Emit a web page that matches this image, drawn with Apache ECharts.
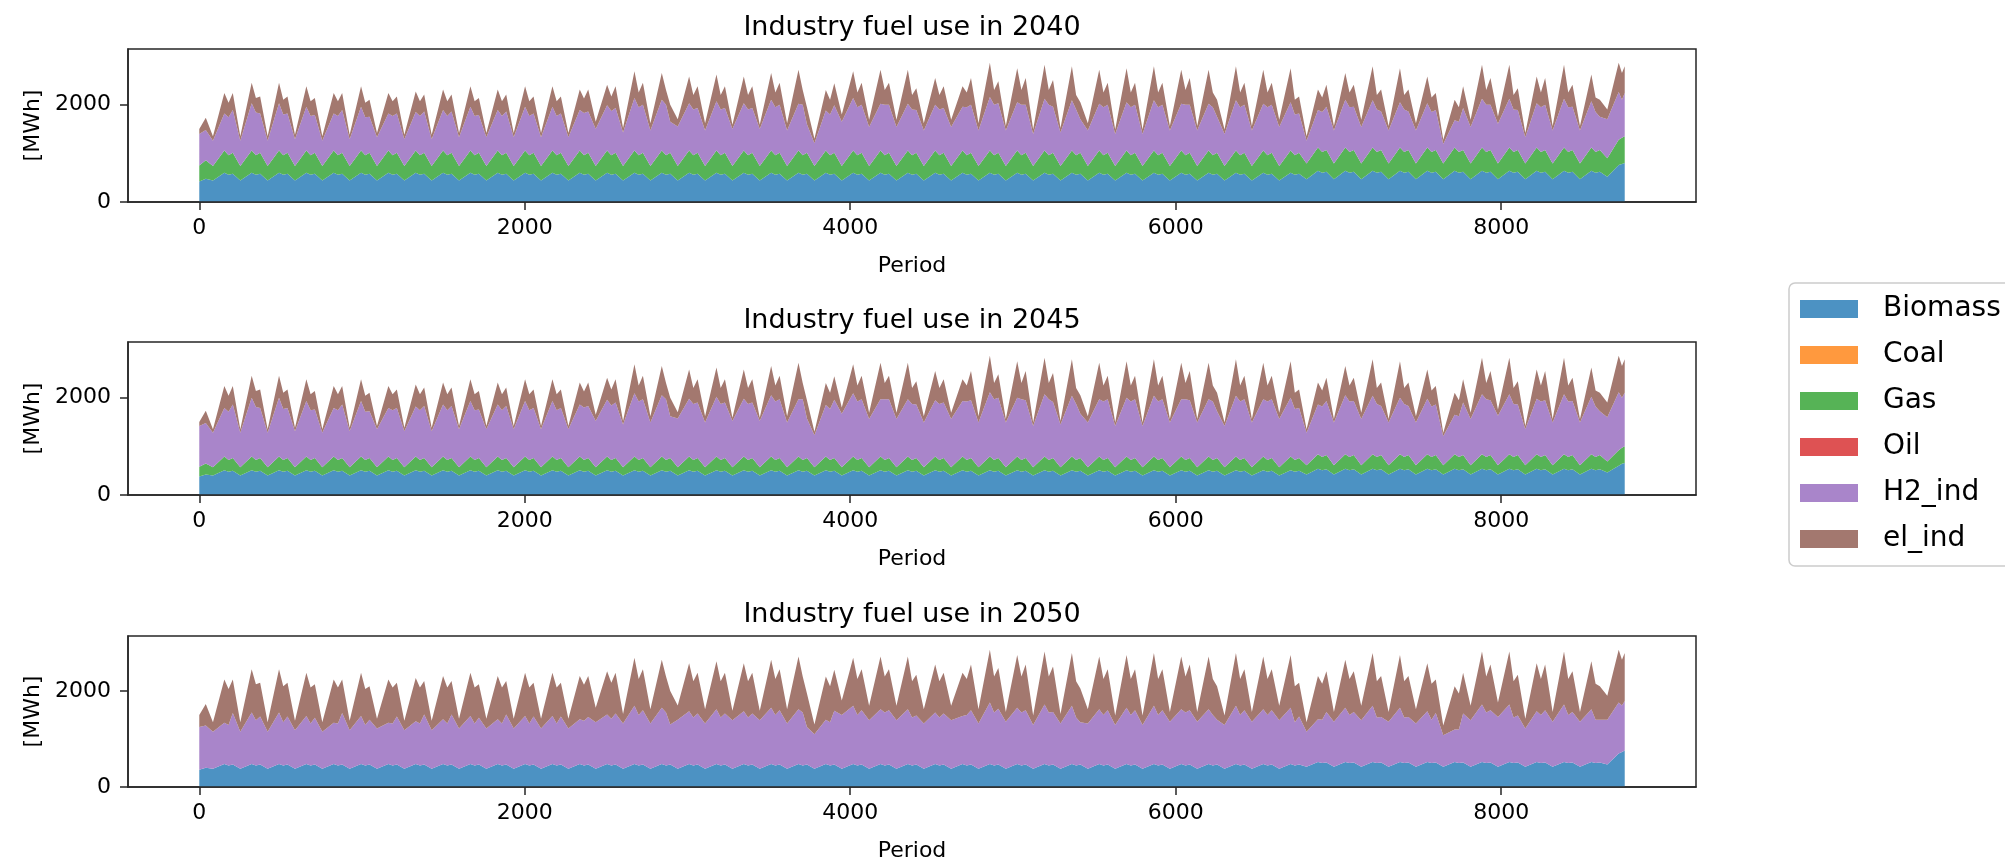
<!DOCTYPE html>
<html>
<head>
<meta charset="utf-8">
<title>Industry fuel use</title>
<script src="https://cdn.jsdelivr.net/npm/echarts@6/dist/echarts.min.js"></script>
<style>
  html, body { margin: 0; padding: 0; background: #ffffff; }
  #chart { width: 2005px; height: 863px; }
</style>
</head>
<body>
<div id="chart"></div>
<script>
// Sample hours of the year: start, then per week the weekend low, two weekday peaks and the dip between them
const hours = [
  0, 40,
  84,154,180,206, 252,322,348,374, 420,490,516,542, 588,658,684,710,
  756,826,852,878, 924,994,1020,1046, 1092,1162,1188,1214, 1260,1330,1356,1382,
  1428,1498,1524,1550, 1596,1666,1692,1718, 1764,1834,1860,1886, 1932,2002,2028,2054,
  2100,2170,2196,2222, 2268,2338,2364,2390, 2436,2506,2532,2558, 2604,2674,2700,2726,
  2772,2842,2868,2894, 2940,3010,3036,3062, 3108,3178,3204,3230, 3276,3346,3372,3398,
  3444,3514,3540,3566, 3612,3682,3708,3734, 3780,3850,3876,3902, 3948,4018,4044,4070,
  4116,4186,4212,4238, 4284,4354,4380,4406, 4452,4522,4548,4574, 4620,4690,4716,4742,
  4788,4858,4884,4910, 4956,5026,5052,5078, 5124,5194,5220,5246, 5292,5362,5388,5414,
  5460,5530,5556,5582, 5628,5698,5724,5750, 5796,5866,5892,5918, 5964,6034,6060,6086,
  6132,6202,6228,6254, 6300,6370,6396,6422, 6468,6538,6564,6590, 6636,6706,6732,6758,
  6804,6874,6900,6926, 6972,7042,7068,7094, 7140,7210,7236,7262, 7308,7378,7404,7430,
  7476,7546,7572,7598, 7644,7714,7740,7766, 7812,7882,7908,7934, 7980,8050,8076,8102,
  8148,8218,8244,8270, 8316,8386,8412,8438, 8484,8554,8580,8606, 8652,8722,8742,8759
];

// Fuels that are not used in any year (MWh)
const zeroLoad = [
  0,0,0,0,0,0,0,0,0,0, 0,0,0,0,0,0,0,0,0,0, 0,0,0,0,0,0,0,0,0,0,
  0,0,0,0,0,0,0,0,0,0, 0,0,0,0,0,0,0,0,0,0, 0,0,0,0,0,0,0,0,0,0,
  0,0,0,0,0,0,0,0,0,0, 0,0,0,0,0,0,0,0,0,0, 0,0,0,0,0,0,0,0,0,0,
  0,0,0,0,0,0,0,0,0,0, 0,0,0,0,0,0,0,0,0,0, 0,0,0,0,0,0,0,0,0,0,
  0,0,0,0,0,0,0,0,0,0, 0,0,0,0,0,0,0,0,0,0, 0,0,0,0,0,0,0,0,0,0,
  0,0,0,0,0,0,0,0,0,0, 0,0,0,0,0,0,0,0,0,0, 0,0,0,0,0,0,0,0,0,0,
  0,0,0,0,0,0,0,0,0,0, 0,0,0,0,0,0,0,0,0,0, 0,0,0,0,0,0,0,0,0,0
];

// ---- 2040 (MWh) ----
const biomass2040 = [
  420,480,
  440,600,560,580, 440,600,560,580, 440,600,560,580, 440,600,560,580,
  440,600,560,580, 440,600,560,580, 440,600,560,580, 440,600,560,580,
  440,600,560,580, 440,600,560,580, 440,600,560,580, 440,600,560,580,
  440,600,560,580, 440,600,560,580, 440,600,560,580, 440,600,560,580,
  440,600,560,580, 440,600,560,580, 440,600,560,580, 440,600,560,580,
  440,600,560,580, 440,600,560,580, 440,600,560,580, 440,600,560,580,
  440,600,560,580, 440,600,560,580, 440,600,560,580, 440,600,560,580,
  440,600,560,580, 440,600,560,580, 440,600,560,580, 440,600,560,580,
  440,600,560,580, 440,600,560,580, 440,600,560,580, 440,600,560,580,
  440,600,560,580, 440,600,560,580, 440,600,560,580, 440,600,560,580,
  470,640,600,620, 470,640,600,620, 470,640,600,620, 470,640,600,620,
  470,640,600,620, 470,640,600,620, 470,640,600,620, 470,640,600,620,
  470,640,600,620, 470,640,600,620, 470,640,600,620, 520,760,780,800
];
const gas2040 = [
  330,380,
  300,460,400,430, 300,460,400,430, 300,460,400,430, 300,460,400,430,
  300,460,400,430, 300,460,400,430, 300,460,400,430, 300,460,400,430,
  300,460,400,430, 300,460,400,430, 300,460,400,430, 300,460,400,430,
  300,460,400,430, 300,460,400,430, 300,460,400,430, 300,460,400,430,
  300,460,400,430, 300,460,400,430, 300,460,400,430, 300,460,400,430,
  300,460,400,430, 300,460,400,430, 300,460,400,430, 300,460,400,430,
  300,460,400,430, 300,460,400,430, 300,460,400,430, 300,460,400,430,
  300,460,400,430, 300,460,400,430, 300,460,400,430, 300,460,400,430,
  300,460,400,430, 300,460,400,430, 300,460,400,430, 300,460,400,430,
  300,460,400,430, 300,460,400,430, 300,460,400,430, 300,460,400,430,
  320,480,430,450, 320,480,430,450, 320,480,430,450, 320,480,430,450,
  320,480,430,450, 320,480,430,450, 320,480,430,450, 320,480,430,450,
  320,480,430,450, 320,480,430,450, 320,480,430,450, 380,520,540,550
];
const h2ind2040 = [
  650,620,
  520,760,780,880, 520,970,880,810, 520,970,840,810, 550,900,810,780,
  520,760,810,880, 550,900,780,740, 590,760,810,810, 550,790,810,850,
  550,830,810,850, 590,900,810,780, 590,830,810,850, 590,900,810,810,
  590,900,810,810, 590,830,870,850, 760,930,910,920, 690,1080,990,990,
  730,1040,1040,640, 810,970,940,920, 730,1010,940,920, 760,970,940,920,
  760,1040,990,990, 730,960,1040,590, 470,820,840,980, 910,1080,990,990,
  800,960,1040,990, 800,960,940,880, 730,940,940,920, 800,900,990,990,
  730,1100,1040,1020, 730,990,1040,990, 660,1060,1040,950, 690,1030,940,690,
  730,960,990,990, 660,990,990,990, 660,1030,990,990, 730,960,1040,990,
  730,960,990,740, 660,1030,990,990, 730,960,990,990, 800,990,840,810,
  470,770,820,890, 680,980,920,890, 750,970,870,790, 680,930,870,790,
  680,910,820,820, 400,560,620,860, 750,1000,970,930, 820,1000,870,820,
  540,910,920,930, 680,1000,920,890, 680,950,820,680, 800,980,780,890
];
const elind2040 = [
  100,250,
  90,420,300,350, 90,420,300,350, 90,420,300,350, 90,420,300,350,
  90,420,300,350, 90,420,300,350, 90,420,300,350, 90,420,300,350,
  90,420,300,350, 90,420,300,350, 90,420,300,350, 90,420,300,350,
  90,420,300,350, 90,420,300,450, 150,420,300,450, 90,550,300,450,
  150,550,300,350, 150,550,300,450, 150,550,300,450, 90,550,300,450,
  90,550,300,450, 150,700,300,350, 90,420,300,450, 150,550,300,450,
  150,700,300,450, 150,700,300,450, 150,550,300,450, 150,420,300,550,
  150,700,300,450, 90,700,300,550, 90,700,300,550, 90,700,300,350,
  150,700,300,450, 90,700,300,450, 90,700,300,450, 90,700,300,550,
  90,700,300,350, 90,700,300,450, 90,700,300,450, 150,700,300,350,
  90,420,300,450, 90,550,300,450, 150,700,300,450, 90,700,300,450,
  150,550,300,350, 90,420,300,450, 150,700,300,550, 150,700,300,450,
  90,550,300,550, 90,700,300,450, 90,550,300,350, 200,600,550,550
];

// ---- 2045 (MWh) ----
const biomass2045 = [
  380,420,
  400,510,480,500, 400,510,480,500, 400,510,480,500, 400,510,480,500,
  400,510,480,500, 400,510,480,500, 400,510,480,500, 400,510,480,500,
  400,510,480,500, 400,510,480,500, 400,510,480,500, 400,510,480,500,
  400,510,480,500, 400,510,480,500, 400,510,480,500, 400,510,480,500,
  400,510,480,500, 400,510,480,500, 400,510,480,500, 400,510,480,500,
  400,510,480,500, 400,510,480,500, 400,510,480,500, 400,510,480,500,
  400,510,480,500, 400,510,480,500, 400,510,480,500, 400,510,480,500,
  400,510,480,500, 400,510,480,500, 400,510,480,500, 400,510,480,500,
  400,510,480,500, 400,510,480,500, 400,510,480,500, 400,510,480,500,
  400,510,480,500, 400,510,480,500, 400,510,480,500, 400,510,480,500,
  420,540,510,530, 420,540,510,530, 420,540,510,530, 420,540,510,530,
  420,540,510,530, 420,540,510,530, 420,540,510,530, 420,540,510,530,
  420,540,510,530, 420,540,510,530, 420,540,510,530, 460,600,640,660
];
const gas2045 = [
  200,230,
  170,280,240,260, 170,280,240,260, 170,280,240,260, 170,280,240,260,
  170,280,240,260, 170,280,240,260, 170,280,240,260, 170,280,240,260,
  170,280,240,260, 170,280,240,260, 170,280,240,260, 170,280,240,260,
  170,280,240,260, 170,280,240,260, 170,280,240,260, 170,280,240,260,
  170,280,240,260, 170,280,240,260, 170,280,240,260, 170,280,240,260,
  170,280,240,260, 170,280,240,260, 170,280,240,260, 170,280,240,260,
  170,280,240,260, 170,280,240,260, 170,280,240,260, 170,280,240,260,
  170,280,240,260, 170,280,240,260, 170,280,240,260, 170,280,240,260,
  170,280,240,260, 170,280,240,260, 170,280,240,260, 170,280,240,260,
  170,280,240,260, 170,280,240,260, 170,280,240,260, 170,280,240,260,
  190,300,270,290, 190,300,270,290, 190,300,270,290, 190,300,270,290,
  190,300,270,290, 190,300,270,290, 190,300,270,290, 190,300,270,290,
  190,300,270,290, 190,300,270,290, 190,300,270,290, 230,320,330,340
];
const h2ind2045 = [
  840,830,
  710,1000,990,1100, 710,1210,1090,1030, 710,1210,1050,1030, 740,1140,1020,1000,
  710,1000,1020,1100, 740,1140,990,960, 780,1000,1020,1030, 740,1030,1020,1070,
  740,1070,1020,1070, 780,1140,1020,1000, 780,1070,1020,1070, 780,1140,1020,1030,
  780,1140,1020,1030, 780,1070,1080,1070, 950,1170,1120,1140, 880,1300,1200,1210,
  920,1260,1250,860, 1000,1190,1150,1140, 920,1230,1150,1140, 950,1190,1150,1140,
  950,1260,1200,1210, 920,1180,1250,810, 660,1060,1050,1200, 1100,1300,1200,1210,
  990,1180,1250,1210, 990,1180,1150,1100, 920,1160,1150,1140, 990,1140,1200,1190,
  920,1320,1250,1240, 920,1210,1250,1190, 850,1280,1250,1150, 880,1250,1150,910,
  920,1180,1200,1210, 850,1210,1200,1210, 850,1250,1200,1210, 920,1180,1250,1190,
  920,1180,1200,960, 850,1250,1200,1210, 920,1180,1200,1210, 990,1210,1050,1030,
  670,1020,1040,1110, 880,1210,1140,1110, 950,1200,1090,1010, 880,1160,1090,1010,
  880,1140,1040,1040, 600,810,840,1080, 950,1230,1190,1130, 1020,1230,1090,1040,
  740,1140,1140,1130, 880,1230,1140,1110, 880,1180,1040,900, 910,1190,1030,1100
];
const elind2045 = [
  80,250,
  70,450,330,380, 70,450,330,380, 70,450,330,380, 70,450,330,380,
  70,450,330,380, 70,450,330,380, 70,450,330,380, 70,450,330,380,
  70,450,330,380, 70,450,330,380, 70,450,330,380, 70,450,330,380,
  70,450,330,380, 70,450,330,480, 130,450,330,480, 70,600,330,480,
  130,600,330,380, 130,600,330,480, 130,600,330,480, 70,600,330,480,
  70,600,330,480, 130,750,330,380, 70,450,330,480, 130,600,330,480,
  130,750,330,480, 130,750,330,480, 130,600,330,480, 130,450,330,600,
  130,750,330,480, 70,750,330,600, 70,750,330,600, 70,750,330,380,
  130,750,330,480, 70,750,330,480, 70,750,330,480, 70,750,330,600,
  70,750,330,380, 70,750,330,480, 70,750,330,480, 130,750,330,380,
  70,450,330,480, 70,600,330,480, 130,750,330,480, 70,750,330,480,
  130,600,330,380, 70,450,330,480, 130,750,330,600, 130,750,330,480,
  70,600,330,600, 70,750,330,480, 70,600,330,380, 300,750,650,690
];

// ---- 2050 (MWh) ----
const biomass2050 = [
  360,400,
  380,480,450,470, 380,480,450,470, 380,480,450,470, 380,480,450,470,
  380,480,450,470, 380,480,450,470, 380,480,450,470, 380,480,450,470,
  380,480,450,470, 380,480,450,470, 380,480,450,470, 380,480,450,470,
  380,480,450,470, 380,480,450,470, 380,480,450,470, 380,480,450,470,
  380,480,450,470, 380,480,450,470, 380,480,450,470, 380,480,450,470,
  380,480,450,470, 380,480,450,470, 380,480,450,470, 380,480,450,470,
  380,480,450,470, 380,480,450,470, 380,480,450,470, 380,480,450,470,
  380,480,450,470, 380,480,450,470, 380,480,450,470, 380,480,450,470,
  380,480,450,470, 380,480,450,470, 380,480,450,470, 380,480,450,470,
  380,480,450,470, 380,480,450,470, 380,480,450,470, 380,480,450,470,
  420,520,500,510, 420,520,500,510, 420,520,500,510, 420,520,500,510,
  420,520,500,510, 420,520,500,510, 420,520,500,510, 420,520,500,510,
  420,520,500,510, 420,520,500,510, 420,520,500,510, 470,700,730,760
];
const h2ind2050 = [
  890,880,
  770,860,840,1070, 770,1070,940,1000, 770,1070,900,1000, 800,1000,870,970,
  770,860,870,1070, 800,1000,840,930, 840,860,870,1000, 800,890,870,1040,
  800,930,870,1040, 840,1000,870,970, 840,930,870,1040, 840,1000,870,1000,
  840,1000,870,1000, 840,930,930,990, 970,1030,970,1060, 940,1210,1050,1130,
  940,1170,1100,830, 1020,1100,1000,1060, 940,1140,1000,1060, 1010,1100,1000,1060,
  1010,1170,1050,1130, 940,1140,1100,780, 720,920,900,1120, 1120,1210,1050,1130,
  1010,1140,1100,1130, 1010,1140,1000,1020, 940,1070,1000,1060, 1010,1000,1050,1130,
  940,1280,1100,1160, 980,1170,1100,1130, 910,1240,1100,1090, 940,1210,1000,880,
  940,1140,1050,1130, 910,1170,1050,1130, 910,1210,1050,1130, 980,1140,1100,1130,
  980,1140,1050,930, 910,1210,1050,1130, 980,1140,1050,1130, 1010,1170,900,1000,
  730,890,900,1050, 940,1130,1000,1050, 970,1170,950,950, 940,1130,950,950,
  900,1060,900,1030, 660,680,700,1020, 970,1200,1050,1090, 1040,1200,950,980,
  800,1060,1000,1090, 940,1200,1000,1050, 940,1100,900,890, 930,1060,970,1030
];
const elind2050 = [
  250,450,
  200,900,750,700, 200,900,750,700, 200,900,750,700, 200,900,750,700,
  200,900,750,700, 200,900,750,700, 200,900,750,700, 200,900,750,700,
  200,900,750,700, 200,900,750,700, 200,900,750,700, 200,900,750,700,
  200,900,750,700, 200,900,750,850, 300,900,750,850, 200,1000,750,850,
  300,1000,750,700, 300,1000,750,850, 300,1000,750,850, 200,1000,750,850,
  200,1000,750,850, 300,1100,750,700, 200,900,750,850, 300,1000,750,850,
  300,1100,750,850, 300,1100,750,850, 300,1000,750,850, 300,900,750,950,
  300,1100,750,850, 200,1100,750,950, 200,1100,750,950, 200,1100,750,700,
  300,1100,750,850, 200,1100,750,850, 200,1100,750,850, 200,1100,750,950,
  200,1100,750,700, 200,1100,750,850, 200,1100,750,850, 300,1100,750,700,
  200,900,750,850, 200,1000,750,850, 300,1100,750,850, 200,1100,750,850,
  300,1000,750,700, 200,900,750,850, 300,1100,750,950, 300,1100,750,850,
  200,1000,750,950, 200,1100,750,850, 200,1000,750,700, 500,1100,950,1000
];

const fuels = ['Biomass', 'Coal', 'Gas', 'Oil', 'H2_ind', 'el_ind'];
const fuelColors = ['#4c92c3', '#ff993e', '#56b356', '#de5253', '#a985ca', '#a3786f'];
const years = ['2040', '2045', '2050'];
const xTicks = [0, 2000, 4000, 6000, 8000];
const yTicks = [0, 2000];

// Stack order per year follows the fuel list: Biomass, Coal, Gas, Oil, H2_ind, el_ind
const useByYear = [
  [biomass2040, zeroLoad, gas2040, zeroLoad, h2ind2040, elind2040],
  [biomass2045, zeroLoad, gas2045, zeroLoad, h2ind2045, elind2045],
  [biomass2050, zeroLoad, zeroLoad, zeroLoad, h2ind2050, elind2050]
];

// Panel geometry
const FONT = 'DejaVu Sans';
const plotLeft = 128;
const plotWidth = 1568;
const plotHeight = 153;
const plotTops = [49, 342, 636];
const frameColor = '#262626';
const plainNumber = v => String(v);

const chart = echarts.init(document.getElementById('chart'), null, { renderer: 'canvas' });

const series = [];
years.forEach((year, i) => {
  fuels.forEach((fuel, f) => {
    const values = useByYear[i][f];
    series.push({
      name: fuel,
      type: 'line',
      xAxisIndex: i,
      yAxisIndex: i,
      stack: 'fuel' + year,
      // value first so the stack runs on the MWh dimension, hour mapped to x
      data: hours.map((h, j) => [values[j], h]),
      encode: { x: 1, y: 0 },
      symbol: 'none',
      showSymbol: false,
      smooth: false,
      silent: true,
      color: fuelColors[f],
      itemStyle: { color: fuelColors[f] },
      lineStyle: { width: 0, color: fuelColors[f] },
      areaStyle: { color: fuelColors[f], opacity: 1 },
      z: 2
    });
  });
});

const option = {
  animation: false,
  backgroundColor: '#ffffff',
  textStyle: { fontFamily: FONT, color: '#000000' },
  title: years.map((year, i) => ({
    text: 'Industry fuel use in ' + year,
    left: plotLeft + plotWidth / 2,
    textAlign: 'center',
    top: plotTops[i] - 35,
    padding: 0,
    textStyle: { fontFamily: FONT, fontSize: 27, fontWeight: 'normal', color: '#000000' }
  })),
  grid: plotTops.map(top => ({
    left: plotLeft,
    top: top,
    width: plotWidth,
    height: plotHeight,
    show: true,
    borderColor: frameColor,
    borderWidth: 1.5,
    backgroundColor: 'transparent',
    containLabel: false
  })),
  xAxis: years.map((year, i) => ({
    type: 'value',
    gridIndex: i,
    min: -438,
    max: 9197,
    z: 5,
    name: 'Period',
    nameLocation: 'middle',
    nameGap: 53,
    nameTextStyle: { fontFamily: FONT, fontSize: 22, color: '#000000' },
    axisLine: { show: true, onZero: false, lineStyle: { color: frameColor, width: 1.5 } },
    axisTick: { show: true, length: 8, lineStyle: { color: frameColor, width: 1.5 }, customValues: xTicks },
    axisLabel: { fontFamily: FONT, fontSize: 22, color: '#000000', margin: 15, customValues: xTicks, formatter: plainNumber },
    splitLine: { show: false }
  })),
  yAxis: years.map((year, i) => ({
    type: 'value',
    gridIndex: i,
    min: 0,
    max: 3145,
    z: 5,
    name: '[MWh]',
    nameLocation: 'middle',
    nameRotate: 90,
    nameGap: 79,
    nameTextStyle: { fontFamily: FONT, fontSize: 22, color: '#000000' },
    axisLine: { show: true, onZero: false, lineStyle: { color: frameColor, width: 1.5 } },
    axisTick: { show: true, length: 8, lineStyle: { color: frameColor, width: 1.5 }, customValues: yTicks },
    axisLabel: { fontFamily: FONT, fontSize: 22, color: '#000000', margin: 17, customValues: yTicks, formatter: plainNumber },
    splitLine: { show: false }
  })),
  legend: {
    data: fuels,
    orient: 'vertical',
    left: 1789,
    top: 283,
    icon: 'rect',
    itemWidth: 58,
    itemHeight: 18,
    itemGap: 16,
    padding: [11, 30, 12, 11],
    borderColor: '#cccccc',
    borderWidth: 1.5,
    borderRadius: 6,
    backgroundColor: '#ffffff',
    selectedMode: false,
    textStyle: { fontFamily: FONT, fontSize: 28, color: '#000000', lineHeight: 30, padding: [0, 0, 0, 20] }
  },
  series: series
};

chart.setOption(option);
</script>
</body>
</html>
